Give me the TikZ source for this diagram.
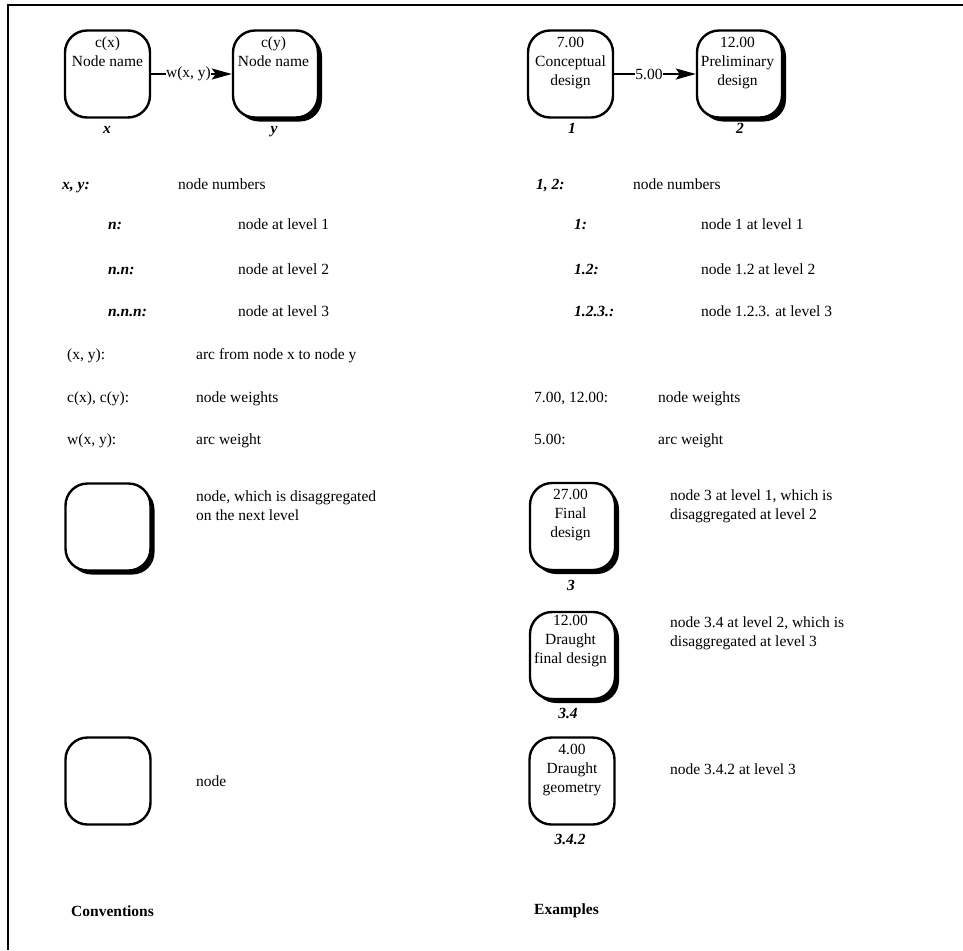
\documentclass[tikz,border=0pt]{standalone}
\usepackage{fontspec}
\setmainfont{Liberation Serif}
\usetikzlibrary{shadows,arrows.meta}
\begin{document}
\begin{tikzpicture}[x=1pt,y=-1pt,
  every node/.style={font=\fontsize{15.5}{19}\selectfont, inner sep=1pt},
  box/.style={draw, line width=2.4pt, rounded corners=22pt, minimum width=85pt, minimum height=87pt, fill=white, inner sep=0pt},
  sbox/.style={box, drop shadow={shadow xshift=4pt, shadow yshift=-4pt, fill=black, opacity=1}},
  btext/.style={anchor=north, align=center},
  num/.style={font=\fontsize{15.5}{19}\selectfont\bfseries\itshape, text height=11pt, text depth=3pt},
  lbl/.style={anchor=west, text height=11pt, text depth=3pt},
  blbl/.style={lbl, font=\fontsize{15.5}{19}\selectfont\bfseries\itshape},
  arc/.style={line width=2pt, -{Stealth[length=20pt,width=11pt,inset=4pt]}},
  frame/.style={line width=2.2pt}
]
\useasboundingbox (0,0) rectangle (963,950);
% frame
\coordinate (f0) at (8,5);
\coordinate (f1) at (963,5);
\coordinate (f2) at (8,950);
\draw[frame] (f1) -- (f0) -- (f2);

% ---------- Conventions: top pair
\node[box] (bx) at (107.5,74) {};
\node[sbox] (by) at (275.5,74) {};
\node[btext] (tx) at (107.5,36) {c(x)\\Node name};
\node[btext] (ty) at (273.5,36) {c(y)\\Node name};
\draw[arc] (bx) -- node[fill=white, inner sep=0.5pt, xshift=-3pt] (wl) {w(x, y)} (by);
\node[num] (nx) at (107,129) {x};
\node[num] (ny) at (274,129) {y};

% ---------- Examples: top pair
\node[box] (b1) at (570.5,74) {};
\node[sbox] (b2) at (739.5,74) {};
\node[btext] (t1) at (570.5,36) {7.00\\Conceptual\\design};
\node[btext] (t2) at (737.5,36) {12.00\\Preliminary\\design};
\draw[arc] (b1) -- node[fill=white, inner sep=0.5pt, xshift=-6pt] (al) {5.00} (b2);
\node[num] (n1) at (572,129) {1};
\node[num] (n2) at (740,129) {2};

% ---------- Conventions: legend rows
\node[blbl] (c1a) at (61,185) {x, y:};
\node[lbl] (c1b) at (177,185) {node numbers};
\node[blbl] (c2a) at (107,225) {n:};
\node[lbl] (c2b) at (237,225) {node at level 1};
\node[blbl] (c3a) at (107,270) {n.n:};
\node[lbl] (c3b) at (237,270) {node at level 2};
\node[blbl] (c4a) at (107,312) {n.n.n:};
\node[lbl] (c4b) at (237,312) {node at level 3};
\node[lbl] (c5a) at (66,355) {(x, y):};
\node[lbl] (c5b) at (195,355) {arc from node x to node y};
\node[lbl] (c6a) at (66,398) {c(x), c(y):};
\node[lbl] (c6b) at (195,398) {node weights};
\node[lbl] (c7a) at (66,440) {w(x, y):};
\node[lbl] (c7b) at (195,440) {arc weight};

% ---------- Examples: legend rows
\node[blbl] (e1a) at (535,185) {1, 2:};
\node[lbl] (e1b) at (632,185) {node numbers};
\node[blbl] (e2a) at (573,225) {1:};
\node[lbl] (e2b) at (700,225) {node 1 at level 1};
\node[blbl] (e3a) at (573,270) {1.2:};
\node[lbl] (e3b) at (700,270) {node 1.2 at level 2};
\node[blbl] (e4a) at (573,312) {1.2.3.:};
\node[lbl] (e4b) at (700,312) {node 1.2.3. at level 3};
\node[lbl] (e6a) at (533,398) {7.00, 12.00:};
\node[lbl] (e6b) at (657,398) {node weights};
\node[lbl] (e7a) at (533,440) {5.00:};
\node[lbl] (e7b) at (657,440) {arc weight};

% ---------- Conventions: box legends
\node[sbox] (bdis) at (108,527) {};
\node[lbl, align=left, anchor=north west] (tdis) at (195,508) {node, which is disaggregated\\on the next level};
\node[box] (bplain) at (108,781) {};
\node[lbl] (tplain) at (195,782) {node};

% ---------- Examples: box legends
\node[sbox] (b3) at (572.5,526.5) {};
\node[btext] (t3) at (570.5,488) {27.00\\Final\\design};
\node[num] (n3) at (571,586) {3};
\node[lbl, align=left, anchor=north west] (d3) at (669,507) {node 3 at level 1, which is\\disaggregated at level 2};

\node[sbox] (b34) at (572.5,655.5) {};
\node[btext] (t34) at (570.5,614) {12.00\\Draught\\final design};
\node[num] (n34) at (568,714) {3.4};
\node[lbl, align=left, anchor=north west] (d34) at (669,634) {node 3.4 at level 2, which is\\disaggregated at level 3};

\node[box] (b342) at (572,781) {};
\node[btext] (t342) at (572,743) {4.00\\Draught\\geometry};
\node[num] (n342) at (570,840) {3.4.2};
\node[lbl] (d342) at (669,770) {node 3.4.2 at level 3};

% ---------- captions
\node[lbl, font=\fontsize{15.5}{19}\selectfont\bfseries] (conv) at (70,912) {Conventions};
\node[lbl, font=\fontsize{15.5}{19}\selectfont\bfseries] (exam) at (533,910) {Examples};
\end{tikzpicture}
\end{document}
